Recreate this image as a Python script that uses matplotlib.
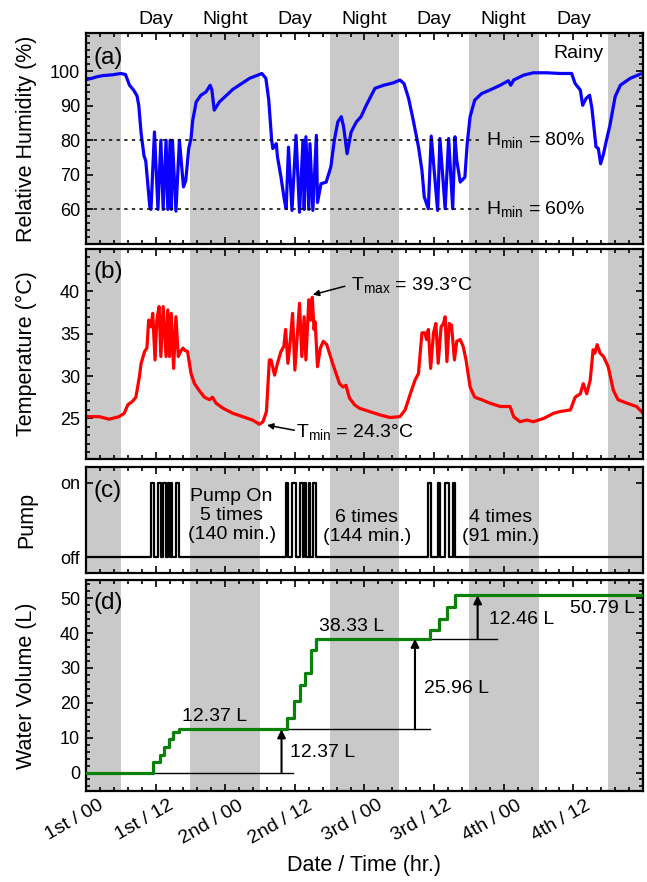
import numpy as np
import matplotlib.pyplot as plt
from matplotlib.ticker import MultipleLocator, AutoMinorLocator
from matplotlib.transforms import ScaledTranslation

plt.rcParams['font.family'] = ['Liberation Sans', 'DejaVu Sans']
plt.rcParams['mathtext.default'] = 'regular'

# time axis: hours counted from 1st / 00
night_bands = [(0, 6), (18, 30), (42, 54), (66, 78), (90, 96)]
period_names = ['Day', 'Night', 'Day', 'Night', 'Day', 'Night', 'Day']
period_mid = [12, 24, 36, 48, 60, 72, 84]
x_ticks = [0, 12, 24, 36, 48, 60, 72, 84]
x_ticklabels = ['1st / 00', '1st / 12', '2nd / 00', '2nd / 12',
                '3rd / 00', '3rd / 12', '4th / 00', '4th / 12']

# (a) relative humidity
rh_time = [0, 1, 2, 3, 4.5, 6, 6.8, 7.5, 8.2, 8.8,
           9.1, 9.5, 10.0, 10.3, 10.6, 11.0, 11.2, 11.8, 12.4, 12.9,
           13.3, 13.8, 14.1, 14.5, 14.7, 14.9, 15.5, 16.1, 16.8, 17.2,
           17.7, 18.1, 18.4, 19.0, 19.8, 20.7, 21.4, 21.7, 22.1, 23.0,
           24.1, 25.3, 26.4, 28.2, 29.6, 30.3, 31.0, 31.5, 32.0, 32.2,
           32.8, 33.0, 33.6, 34.2, 34.5, 34.9, 35.5, 36.2, 36.8, 37.4,
           37.6, 37.9, 38.4, 38.6, 39.1, 39.7, 39.9, 40.5, 41.4, 42.2,
           42.8, 43.4, 44.0, 44.4, 45.0, 45.7, 46.6, 47.4, 48.3, 49.8,
           51.3, 53.0, 54.1, 54.8, 55.6, 56.4, 57.3, 57.9, 58.3, 59.0,
           59.5, 60.6, 61.0, 61.9, 62.5, 63.2, 63.6, 63.9, 64.5, 65.3,
           65.7, 66.2, 67.0, 68.2, 69.6, 71.4, 72.8, 73.2, 73.7, 75.4,
           77.1, 79.4, 81.7, 83.7, 84.3, 85.2, 85.6, 86.2, 86.8, 87.2,
           87.6, 87.9, 88.3, 88.7, 89.2, 89.7, 90.3, 91.2, 92.1, 93.8,
           95.5, 96]
rh_value = [97.5, 97.9, 98.4, 98.7, 98.9, 99.3, 99.0, 95.9, 94.5, 92.8,
            90.0, 82.0, 75.5, 74.0, 68.4, 60.7, 60.0, 82.4, 60.0, 80.0,
            60.0, 80.0, 60.0, 80.0, 60.0, 80.0, 59.5, 80.0, 66.5, 68.4,
            77.6, 80.5, 85.8, 91.1, 93.0, 94.0, 95.9, 94.5, 88.7, 91.1,
            92.8, 94.7, 95.9, 97.9, 98.8, 99.3, 97.9, 91.6, 80.0, 77.6,
            79.0, 75.2, 69.4, 62.6, 60.2, 78.0, 59.7, 81.4, 59.2, 80.0,
            60.0, 81.0, 60.0, 79.0, 59.7, 81.4, 62.0, 67.4, 67.9, 72.3,
            80.0, 85.3, 86.8, 83.9, 76.1, 82.4, 85.3, 86.8, 90.1, 95.0,
            95.9, 96.6, 97.4, 96.4, 92.1, 85.8, 78.1, 71.3, 63.6, 60.2,
            81.2, 59.7, 80.5, 60.2, 80.5, 60.2, 81.0, 74.2, 67.9, 69.3,
            79.0, 86.8, 91.6, 93.5, 94.5, 95.9, 97.2, 95.9, 97.4, 98.8,
            99.5, 99.5, 99.3, 99.3, 96.4, 94.5, 90.1, 92.1, 93.0, 89.2,
            82.9, 78.1, 77.6, 73.2, 76.1, 80.0, 84.3, 92.6, 95.9, 97.9,
            99.1, 99.3]

# (b) temperature
temp_time = [0, 2.3, 4.0, 5.7, 6.6, 7.2, 8.0, 8.6, 9.2, 9.5,
             10.1, 10.5, 10.8, 11.2, 11.5, 11.9, 12.2, 12.6, 12.9, 13.3,
             13.8, 14.1, 14.4, 14.7, 15.1, 15.5, 15.9, 16.3, 16.7, 17.1,
             17.5, 18.1, 18.7, 19.5, 20.4, 21.3, 21.8, 22.4, 23.6, 25.3,
             27.0, 28.7, 29.9, 30.5, 31.1, 31.6, 31.9, 32.5, 33.0, 33.6,
             34.1, 34.4, 34.8, 35.2, 35.6, 36.0, 36.4, 36.8, 37.2, 37.6,
             37.9, 38.4, 38.7, 39.0, 39.3, 39.5, 39.9, 40.4, 40.9, 41.5,
             42.5, 43.7, 44.3, 44.8, 45.4, 46.3, 47.1, 48.9, 50.7, 52.4,
             54.1, 55.0, 55.9, 56.7, 57.3, 57.9, 58.4, 58.7, 59.0, 59.4,
             59.9, 60.3, 60.7, 61.2, 61.6, 61.9, 62.2, 62.6, 63.0, 63.5,
             63.9, 64.5, 65.0, 65.5, 66.2, 67.0, 68.2, 69.6, 71.4, 73.1,
             73.7, 74.8, 76.0, 77.1, 78.9, 80.6, 81.7, 83.5, 84.3, 85.2,
             85.7, 86.3, 86.9, 87.4, 87.7, 88.1, 88.6, 89.2, 90.0, 90.9,
             91.7, 93.2, 94.9, 96]
temp_value = [25.2, 25.2, 24.9, 25.2, 25.6, 26.6, 27.0, 27.5, 29.9, 31.5,
              32.9, 33.3, 36.6, 35.8, 37.4, 31.9, 36.6, 38.2, 32.3, 38.2,
              32.3, 37.8, 32.3, 37.4, 30.9, 37.0, 32.3, 32.9, 33.3, 33.0,
              32.9, 30.3, 29.1, 28.3, 27.5, 27.2, 27.5, 26.8, 26.2, 25.6,
              25.2, 24.8, 24.3, 24.6, 25.8, 31.9, 31.9, 30.1, 31.5, 32.9,
              33.5, 35.5, 31.5, 34.1, 37.4, 30.7, 34.7, 38.6, 32.3, 37.0,
              31.9, 39.0, 36.6, 39.3, 35.5, 36.4, 31.1, 33.3, 34.1, 33.7,
              31.5, 29.1, 28.7, 28.9, 27.4, 26.6, 26.2, 25.8, 25.4, 25.1,
              25.2, 26.0, 27.9, 29.5, 30.3, 35.1, 35.1, 34.3, 35.5, 30.9,
              35.1, 36.2, 31.5, 35.8, 36.2, 37.0, 31.7, 36.2, 36.0, 31.9,
              34.1, 34.3, 33.5, 31.9, 28.7, 27.5, 27.2, 26.8, 26.4, 26.4,
              25.2, 24.6, 24.8, 24.6, 25.0, 25.6, 25.8, 26.0, 27.5, 27.9,
              29.1, 27.9, 29.5, 33.1, 32.7, 33.7, 32.7, 32.3, 31.1, 28.3,
              27.2, 26.8, 26.4, 25.6]

# (c) pump on / off times (hours)
pump_start = [11.2, 12.4, 13.3, 14.1, 14.7, 15.5,
              34.5, 35.5, 36.8, 37.6, 38.4, 39.1,
              59.0, 60.6, 61.9, 63.2]
pump_stop = [11.8, 12.9, 13.8, 14.5, 14.9, 16.1,
             34.9, 36.2, 37.4, 37.9, 38.6, 39.7,
             59.5, 61.0, 62.5, 63.6]
pump_notes = ['Pump On\n5 times\n(140 min.)', '6 times\n(144 min.)', '4 times\n(91 min.)']

# (d) cumulative water volume (L)
vol_time = [0, 11.5, 12.7, 13.5, 14.3, 15.0, 16.0,
            34.7, 35.9, 36.9, 37.8, 38.7, 39.6,
            59.3, 60.8, 62.3, 63.6, 96]
vol_value = [0, 3.0, 5.0, 7.3, 9.5, 11.5, 12.37,
             15.5, 20.6, 25.2, 28.5, 35.0, 38.33,
             41.0, 44.0, 47.5, 50.79, 50.79]

W, H = 647, 882
fig = plt.figure(figsize=(W / 100, H / 100), dpi=100)

tick_font = 13
label_font = 15.5
note_font = 14
panel_font = 17.5


def add_panel(top, bottom):
    ax = fig.add_axes([86 / W, 1 - bottom / H, (643 - 86) / W, (bottom - top) / H])
    for a, b in night_bands:
        ax.axvspan(a, b, color='#c9c9c9', lw=0, zorder=0)
    ax.set_xlim(0, 96)
    ax.xaxis.set_major_locator(MultipleLocator(12))
    ax.xaxis.set_minor_locator(AutoMinorLocator(5))
    ax.tick_params(which='both', direction='in', top=True, right=True,
                   width=1.2, labelsize=tick_font, pad=4.3)
    ax.tick_params(which='major', length=5)
    ax.tick_params(which='minor', length=3)
    for s in ax.spines.values():
        s.set_linewidth(1.6)
    return ax


ax_a = add_panel(33, 244)
ax_b = add_panel(249, 459)
ax_c = add_panel(467, 573)
ax_d = add_panel(580, 791)

for ax in (ax_a, ax_b, ax_c):
    ax.tick_params(labelbottom=False)

# ---- (a)
ax_a.plot(rh_time, rh_value, color='#0a00ff', lw=2.3)
ax_a.set_ylim(50, 111)
ax_a.set_yticks([60, 70, 80, 90, 100])
ax_a.yaxis.set_minor_locator(AutoMinorLocator(5))
ax_a.set_ylabel('Relative Humidity (%)', fontsize=label_font)
for lvl in (80, 60):
    ax_a.plot([0, 68], [lvl, lvl], color='black', lw=1.1, ls=(0, (2.2, 2.8)))
    ax_a.text(68.9, lvl, 'H$_{min}$ = %d%%' % lvl, fontsize=note_font, va='center')
ax_a.text(84.8, 105.2, 'Rainy', fontsize=note_font, ha='center', va='center')
for c, name in zip(period_mid, period_names):
    ax_a.text(c, 1.062, name, transform=ax_a.get_xaxis_transform(),
              ha='center', va='center', fontsize=note_font)
ax_a.text(0.013, 0.88, '(a)', transform=ax_a.transAxes, fontsize=panel_font, va='center')

# ---- (b)
ax_b.plot(temp_time, temp_value, color='#ff0000', lw=2.3)
ax_b.set_ylim(20.2, 45)
ax_b.set_yticks([25, 30, 35, 40])
ax_b.yaxis.set_minor_locator(AutoMinorLocator(5))
ax_b.set_ylabel('Temperature (\u00b0C)', fontsize=label_font)
ax_b.annotate('', xy=(39.1, 39.6), xytext=(44.6, 40.6),
              arrowprops=dict(arrowstyle='-|>', color='black', lw=1.1,
                              mutation_scale=9, shrinkA=0, shrinkB=0))
ax_b.text(45.6, 40.8, 'T$_{max}$ = 39.3\u00b0C', fontsize=note_font, va='center')
ax_b.annotate('', xy=(31.2, 24.2), xytext=(35.9, 23.6),
              arrowprops=dict(arrowstyle='-|>', color='black', lw=1.1,
                              mutation_scale=9, shrinkA=0, shrinkB=0))
ax_b.text(36.2, 23.4, 'T$_{min}$ = 24.3\u00b0C', fontsize=note_font, va='center')
ax_b.text(0.013, 0.89, '(b)', transform=ax_b.transAxes, fontsize=panel_font, va='center')

# ---- (c)
pt = [0]
ps = [0]
for on, off in zip(pump_start, pump_stop):
    pt += [on, on, off, off]
    ps += [0, 1, 1, 0]
pt.append(96)
ps.append(0)
ax_c.plot(pt, ps, color='black', lw=1.6)
ax_c.set_ylim(-0.21, 1.21)
ax_c.set_yticks([0, 1])
ax_c.set_yticklabels(['off', 'on'])
ax_c.set_ylabel('Pump', fontsize=label_font)
ax_c.text(25.1, 0.565, pump_notes[0], fontsize=note_font, ha='center', va='center',
          linespacing=1.15)
ax_c.text(48.4, 0.41, pump_notes[1], fontsize=note_font, ha='center', va='center',
          linespacing=1.15)
ax_c.text(71.4, 0.41, pump_notes[2], fontsize=note_font, ha='center', va='center',
          linespacing=1.15)
ax_c.text(0.013, 0.77, '(c)', transform=ax_c.transAxes, fontsize=panel_font, va='center')

# ---- (d)
ax_d.plot([0, 35.7], [0, 0], color='black', lw=1)
ax_d.plot([16, 59.3], [12.37, 12.37], color='black', lw=1)
ax_d.plot([39.6, 70.8], [38.33, 38.33], color='black', lw=1)
ax_d.step(vol_time, vol_value, where='post', color='#0a820a', lw=2.3, zorder=3)
arrows = [(33.7, 0, 12.37), (56.7, 12.37, 38.33), (67.5, 38.33, 50.79)]
for x, y0, y1 in arrows:
    ax_d.annotate('', xy=(x, y1), xytext=(x, y0),
                  arrowprops=dict(arrowstyle='-|>', color='black', lw=1.5,
                                  mutation_scale=12, shrinkA=0, shrinkB=0))
ax_d.text(35.2, 5.7, '12.37 L', fontsize=note_font, va='center')
ax_d.text(58.2, 24.2, '25.96 L', fontsize=note_font, va='center')
ax_d.text(69.5, 43.8, '12.46 L', fontsize=note_font, va='center')
ax_d.text(22.2, 16.1, '12.37 L', fontsize=note_font, ha='center', va='center')
ax_d.text(45.8, 41.9, '38.33 L', fontsize=note_font, ha='center', va='center')
ax_d.text(89.1, 47.1, '50.79 L', fontsize=note_font, ha='center', va='center')
ax_d.set_ylim(-5.3, 55.2)
ax_d.set_yticks([0, 10, 20, 30, 40, 50])
ax_d.yaxis.set_minor_locator(AutoMinorLocator(5))
ax_d.set_ylabel('Water Volume (L)', fontsize=label_font)
ax_d.set_xticks(x_ticks)
ax_d.set_xticklabels(x_ticklabels, rotation=30, ha='right', rotation_mode='anchor',
                     fontsize=14)
shift = ScaledTranslation(12 / 100, 0, fig.dpi_scale_trans)
for lab in ax_d.get_xticklabels():
    lab.set_transform(lab.get_transform() + shift)
ax_d.set_xlabel('Date / Time (hr.)', fontsize=label_font, labelpad=6)
ax_d.text(0.013, 0.89, '(d)', transform=ax_d.transAxes, fontsize=panel_font, va='center')

for ax in (ax_a, ax_b, ax_c, ax_d):
    ax.yaxis.set_label_coords(-0.088, 0.5)

fig.savefig('out.png', dpi=100)
